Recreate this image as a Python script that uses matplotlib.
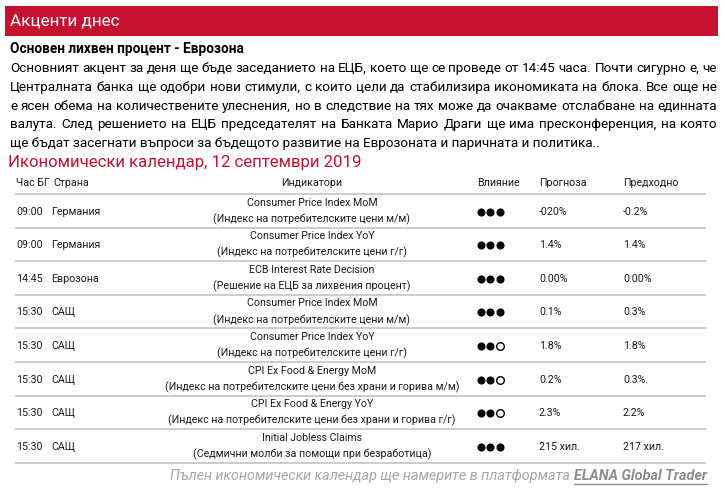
import matplotlib
matplotlib.use("Agg")
import matplotlib.pyplot as plt

plt.rcParams['font.family'] = ['Roboto', 'DejaVu Sans']

# ---------------- data ----------------
banner_title = "Акценти днес"
focus_heading = "Основен лихвен процент - Еврозона"
paragraph_lines = [
    "Основният акцент за деня ще бъде заседанието на ЕЦБ, което ще се проведе от 14:45 часа. Почти сигурно е, че",
    "Централната банка ще одобри нови стимули, с които цели да стабилизира икономиката на блока. Все още не",
    "е ясен обема на количествените улеснения, но в следствие на тях може да очакваме отслабване на единната",
    "валута. След решението на ЕЦБ председателят на Банката Марио Драги ще има пресконференция, на която",
    "ще бъдат засегнати въпроси за бъдещото развитие на Еврозоната и паричната и политика..",
]
calendar_title = "Икономически календар, 12 септември 2019"
col_headers = ["Час БГ", "Страна", "Индикатори", "Влияние", "Прогноза", "Предходно"]
times = ["09:00", "09:00", "14:45", "15:30", "15:30", "15:30", "15:30", "15:30"]
countries = ["Германия", "Германия", "Еврозона", "САЩ", "САЩ", "САЩ", "САЩ", "САЩ"]
indicators_en = ["Consumer Price Index MoM", "Consumer Price Index YoY",
                 "ECB Interest Rate Decision", "Consumer Price Index MoM",
                 "Consumer Price Index YoY", "CPI Ex Food & Energy MoM",
                 "CPI Ex Food & Energy YoY", "Initial Jobless Claims"]
indicators_bg = ["(Индекс на потребителските цени м/м)",
                 "(Индекс на потребителските цени г/г)",
                 "(Решение на ЕЦБ за лихвения процент)",
                 "(Индекс на потребителските цени м/м)",
                 "(Индекс на потребителските цени г/г)",
                 "(Индекс на потребителските цени без храни и горива м/м)",
                 "(Индекс на потребителските цени без храни и горива г/г)",
                 "(Седмични молби за помощи при безработица)"]
impact = [3, 3, 3, 3, 2, 2, 2, 3]
forecast = ["-020%", "1.4%", "0.00%", "0.1%", "1.8%", "0.2%", "2.3%", "215 хил."]
previous = ["-0.2%", "1.4%", "0.00%", "0.3%", "1.8%", "0.3%.", "2.2%", "217 хил."]
footer_text = "Пълен икономически календар ще намерите в платформата "
footer_link = "ELANA Global Trader"

# ---------------- styling ----------------
RED = "#C41230"
GRID = "#BFBFBF"
TXT = "#1A1A1A"

W, H = 725, 494
fig = plt.figure(figsize=(W / 100, H / 100), dpi=100)
ax = fig.add_axes([0, 0, 1, 1])
ax.set_xlim(0, W)
ax.set_ylim(H, 0)
ax.axis("off")
renderer = fig.canvas.get_renderer()


def width_of(t):
    bb = t.get_window_extent(renderer=renderer)
    return bb.width


# banner
ax.add_patch(plt.Rectangle((5, 6), 713, 30, color=RED, lw=0))
ax.text(10, 21.5, banner_title, color="white", fontsize=12.3, va="center", ha="left")

# heading
ax.text(10, 49, focus_heading, color="black", fontsize=9.85, fontweight="bold",
        va="center", ha="left")

# paragraph (justified)
para_size = 9.7
line_y = [68.5, 87.5, 106, 124.5, 143]
for i, line in enumerate(paragraph_lines):
    y = line_y[i]
    if i == len(paragraph_lines) - 1:
        ax.text(10, y, line, color="black", fontsize=para_size, va="center", ha="left")
        continue
    words = line.split(" ")
    objs = [ax.text(0, y, w, color="black", fontsize=para_size, va="center", ha="left")
            for w in words]
    widths = [width_of(o) for o in objs]
    gap = (717 - 10 - sum(widths)) / (len(words) - 1)
    x = 10
    for o, w in zip(objs, widths):
        o.set_x(x)
        x += w + gap

# calendar title
ax.text(8, 162, calendar_title, color=RED, fontsize=12.1, va="center", ha="left")

# table
tsize = 7.65
hdr_y = 183
ax.text(16, hdr_y, col_headers[0], fontsize=tsize, color=TXT, va="center", ha="left")
ax.text(53, hdr_y, col_headers[1], fontsize=tsize, color=TXT, va="center", ha="left")
ax.text(312, hdr_y, col_headers[2], fontsize=tsize, color=TXT, va="center", ha="center")
ax.text(477, hdr_y, col_headers[3], fontsize=tsize, color=TXT, va="center", ha="left")
ax.text(539, hdr_y, col_headers[4], fontsize=tsize, color=TXT, va="center", ha="left")
ax.text(623, hdr_y, col_headers[5], fontsize=tsize, color=TXT, va="center", ha="left")

row_top = 194.0
row_h = 33.6
ax.plot([15, 706], [row_top, row_top], color=GRID, lw=1.1, solid_capstyle="butt")
for i in range(len(times)):
    t = row_top + i * row_h
    mid = t + 17.5
    ax.text(16, mid, times[i], fontsize=tsize, color=TXT, va="center", ha="left")
    ax.text(51, mid, countries[i], fontsize=tsize, color=TXT, va="center", ha="left")
    ax.text(312, t + 8.5, indicators_en[i], fontsize=tsize, color=TXT, va="center", ha="center")
    ax.text(312, t + 25, indicators_bg[i], fontsize=tsize, color=TXT, va="center", ha="center")
    xs = [481, 490.5, 500]
    for k, xd in enumerate(xs):
        if k < impact[i]:
            ax.scatter([xd], [mid], s=34, color="black", marker="o", lw=0)
        else:
            ax.scatter([xd], [mid], s=30, facecolor="white", edgecolor="black", marker="o", lw=1.0)
    ax.text(539, mid, forecast[i], fontsize=tsize, color=TXT, va="center", ha="left")
    ax.text(623, mid, previous[i], fontsize=tsize, color=TXT, va="center", ha="left")
    ax.plot([15, 706], [t + row_h, t + row_h], color=GRID, lw=1.1, solid_capstyle="butt")

# footer
fy = 476
fsize = 10.4
link = ax.text(707, fy, footer_link, fontsize=fsize, color="#8C8C8C", fontweight="bold",
               style="italic", va="center", ha="right")
lw_ = width_of(link)
ax.plot([707 - lw_, 707], [fy + 7.5, fy + 7.5], color="#8C8C8C", lw=1.0)
ax.text(707 - lw_, fy, footer_text, fontsize=fsize, color="#A6A6A6", style="italic",
        va="center", ha="right")

fig.savefig("out.png", dpi=100)
